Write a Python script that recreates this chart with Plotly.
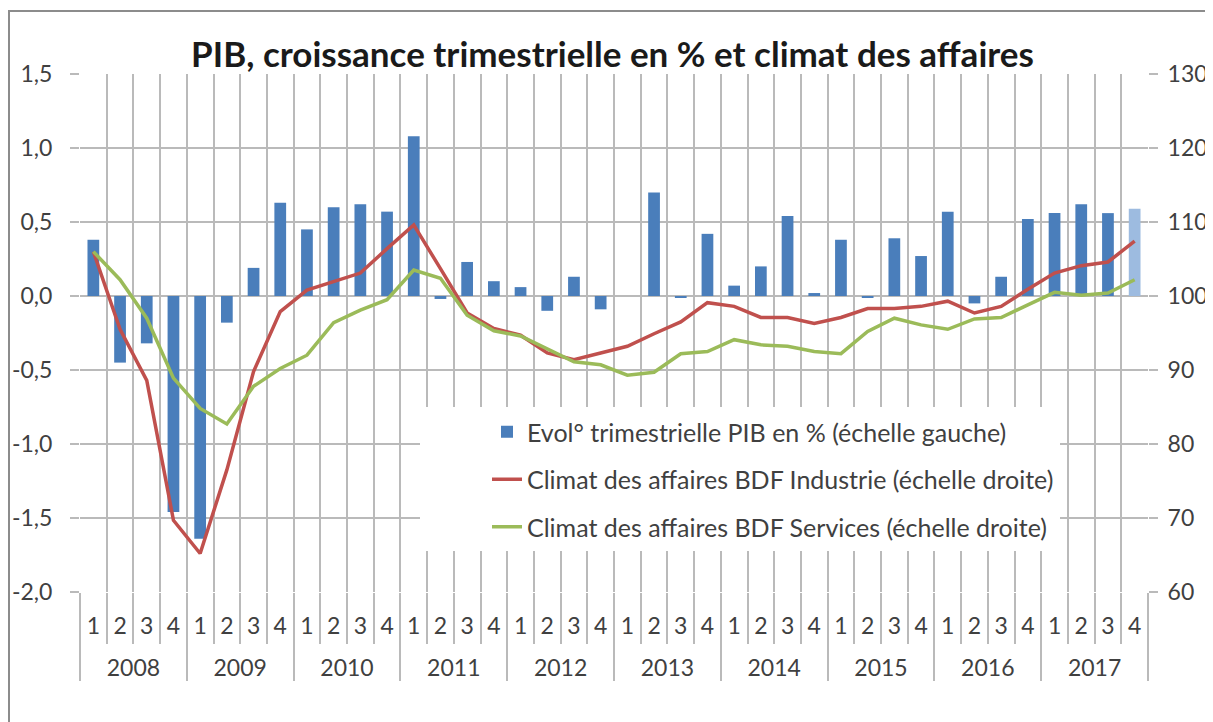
import plotly.graph_objects as go

# ---------------- data ----------------
years = ["2008", "2009", "2010", "2011", "2012", "2013", "2014", "2015", "2016", "2017"]
quarters = ["1", "2", "3", "4"]

pib_growth = [0.38, -0.45, -0.32, -1.46,
              -1.64, -0.18, 0.19, 0.63,
              0.45, 0.60, 0.62, 0.57,
              1.08, -0.02, 0.23, 0.10,
              0.06, -0.10, 0.13, -0.09,
              0.00, 0.70, -0.01, 0.42,
              0.07, 0.20, 0.54, 0.02,
              0.38, -0.01, 0.39, 0.27,
              0.57, -0.05, 0.13, 0.52,
              0.56, 0.62, 0.56, 0.59]

climat_industrie = [106.0, 95.5, 88.6, 69.7,
                    65.2, 76.5, 89.8, 97.9,
                    100.8, 101.9, 103.1, 106.4,
                    109.6, 103.7, 97.7, 95.6,
                    94.7, 92.3, 91.4, 92.3,
                    93.2, 94.9, 96.5, 99.1,
                    98.6, 97.1, 97.1, 96.3,
                    97.1, 98.3, 98.3, 98.6,
                    99.3, 97.7, 98.6, 100.9,
                    103.1, 104.1, 104.6, 107.4]

climat_services = [106.0, 102.2, 97.0, 88.9,
                   84.8, 82.7, 87.8, 90.2,
                   92.0, 96.4, 98.1, 99.5,
                   103.5, 102.4, 97.4, 95.3,
                   94.6, 92.9, 91.1, 90.7,
                   89.3, 89.7, 92.2, 92.5,
                   94.1, 93.4, 93.2, 92.5,
                   92.2, 95.2, 97.0, 96.1,
                   95.5, 96.9, 97.1, 98.8,
                   100.5, 100.1, 100.4, 102.2]

left_ticks = [-2.0, -1.5, -1.0, -0.5, 0.0, 0.5, 1.0, 1.5]
left_ticktext = ["-2,0", "-1,5", "-1,0", "-0,5", "0,0", "0,5", "1,0", "1,5"]
right_ticks = [60, 70, 80, 90, 100, 110, 120, 130]

name_pib = "Evol° trimestrielle PIB en % (échelle gauche)"
name_ind = "Climat des affaires BDF Industrie (échelle droite)"
name_srv = "Climat des affaires BDF Services (échelle droite)"
title_text = "PIB, croissance trimestrielle en % et climat des affaires"

# ---------------- build ----------------
x_outer = [y for y in years for q in quarters]
x_inner = [q + "<br> " for y in years for q in quarters]
xcat = [x_outer, x_inner]
n_cat = len(x_inner)

BLUE = "#4a7ebb"
BLUE_LIGHT = "#9dbbe0"
RED = "#c0504d"
GREEN = "#9bbb59"
GRID = "#bababa"
TXT = "#404040"
FONT = "Lato"

bar_colors = [BLUE] * (len(pib_growth) - 1) + [BLUE_LIGHT]

OFF = 8  # page body margin
W, H = 1213 - OFF, 722 - OFF
L, R, T, B = 72, 65, 66, 130
pw, ph = W - L - R, H - T - B


def px_x(px):
    return (px - OFF - L) / pw


def px_y(py):
    return (H - B - (py - OFF)) / ph


fig = go.Figure()
fig.add_trace(go.Bar(x=xcat, y=pib_growth, name=name_pib, marker=dict(color=bar_colors, line=dict(width=0)),
                     legendgroup="a", yaxis="y"))
fig.add_trace(go.Scatter(x=xcat, y=climat_industrie, name=name_ind, mode="lines",
                         line=dict(color=RED, width=3.5), legendgroup="b", yaxis="y2"))
fig.add_trace(go.Scatter(x=xcat, y=climat_services, name=name_srv, mode="lines",
                         line=dict(color=GREEN, width=3.5), legendgroup="c", yaxis="y2"))

fig.update_layout(
    width=W, height=H,
    margin=dict(l=L, r=R, t=T, b=B, autoexpand=False),
    paper_bgcolor="white", plot_bgcolor="white",
    font=dict(family=FONT, color=TXT, size=23),
    bargap=0.56,
    showlegend=True,
    title=dict(text="<b>" + title_text + "</b>", x=604.5 / W, xanchor="center",
               xref="container", y=1 - (55 - OFF) / H, yanchor="middle", yref="container",
               font=dict(family=FONT, size=35, color="#1a1a1a")),
    xaxis=dict(type="multicategory", range=[-0.5, n_cat - 0.5], autorange=False, automargin=False,
               showgrid=True, gridcolor=GRID, gridwidth=1.5,
               tickmode="linear", tick0=0, dtick=1,
               tickson="boundaries", ticks="outside", ticklen=51, tickcolor=GRID, tickwidth=1.5,
               ticklabelstandoff=18,
               showdividers=True, dividercolor=GRID, dividerwidth=1.5,
               tickfont=dict(size=23, color=TXT), showline=False, zeroline=False),
    yaxis=dict(range=[-2, 1.5], tickvals=left_ticks, ticktext=left_ticktext, automargin=False,
               showgrid=True, gridcolor=GRID, gridwidth=1.5, zeroline=False,
               ticks="outside", ticklen=9, tickcolor=GRID, tickwidth=1.5,
               ticklabelstandoff=13, tickfont=dict(size=23, color=TXT), showline=False),
    yaxis2=dict(range=[60, 130], tickvals=right_ticks, overlaying="y", side="right", automargin=False,
                showgrid=False, zeroline=False,
                ticks="outside", ticklen=9, tickcolor=GRID, tickwidth=1.5,
                ticklabelstandoff=5, tickfont=dict(size=23, color=TXT), showline=False),
    legend=dict(x=px_x(487), y=px_y(409), xanchor="left", yanchor="top",
                bgcolor="rgba(0,0,0,0)", borderwidth=0, tracegroupgap=12,
                font=dict(family=FONT, size=25, color=TXT), traceorder="grouped"),
    shapes=[
        dict(type="rect", xref="paper", yref="paper", x0=px_x(420), x1=px_x(1060),
             y0=px_y(551), y1=px_y(407), fillcolor="white", line=dict(width=0), layer="above"),
        dict(type="rect", xref="paper", yref="paper", x0=px_x(9), x1=px_x(1300),
             y0=px_y(800), y1=px_y(11), fillcolor="rgba(0,0,0,0)",
             line=dict(color="#8c8c8c", width=2), layer="above"),
    ],
)

fig.write_html("out.html")
